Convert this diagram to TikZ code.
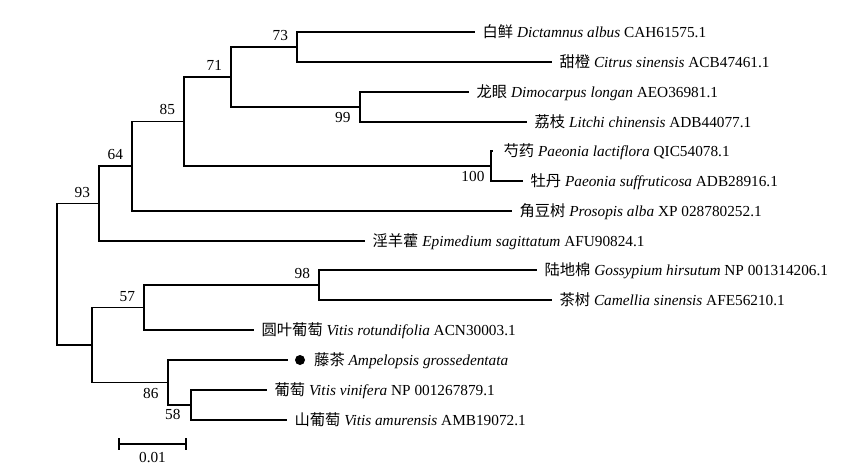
\documentclass[tikz,border=0pt]{standalone}
\usepackage{fontspec}
\setmainfont{Liberation Serif}
\newfontfamily\cjk{Noto Sans CJK SC}
\usetikzlibrary{calc}
\begin{document}
\begin{tikzpicture}[x=1pt,y=-1pt,line width=1.2pt,
  every node/.style={font=\fontsize{15.3pt}{18pt}\selectfont},
  leaf/.style={anchor=base west,inner sep=0pt,xshift=7pt,yshift=-5.5pt},
  bsup/.style={anchor=base east,inner sep=0pt,xshift=-8.5pt,yshift=6.5pt},
  bsdown/.style={anchor=base east,inner sep=0pt,xshift=-9pt,yshift=-16pt}]
\useasboundingbox (0,0) rectangle (866,473);

\coordinate (d1) at (475,32);
\coordinate (d2) at (552,62);
\coordinate (d3) at (469,92);
\coordinate (d4) at (527,122);
\coordinate (d5) at (493,151);
\coordinate (d6) at (523,181);
\coordinate (d7) at (512,211);
\coordinate (d8) at (365,241);
\coordinate (d9) at (537,270);
\coordinate (d10) at (552,300);
\coordinate (d11) at (254,330);
\coordinate (d12) at (288,360);
\coordinate (d13) at (267,390);
\coordinate (d14) at (287,420);

\coordinate (n73) at (297,47);
\coordinate (n99) at (360,107);
\coordinate (n71) at (231,77);
\coordinate (n100) at (491,166);
\coordinate (n85) at (184,121.5);
\coordinate (n64) at (132,166);
\coordinate (n93) at (99,203.5);
\coordinate (n98) at (319,285);
\coordinate (n57) at (144,307.5);
\coordinate (n58) at (191,405);
\coordinate (n86) at (168,382.5);
\coordinate (nlow) at (92,345);
\coordinate (root) at (57,274);

\draw (n73) |- (d1);
\draw (n73) |- (d2);
\draw (n99) |- (d3);
\draw (n99) |- (d4);
\draw (n100) |- (d5);
\draw (n100) |- (d6);
\draw (n71) |- (n73);
\draw (n71) |- (n99);
\draw (n85) |- (n71);
\draw (n85) |- (n100);
\draw (n64) |- (n85);
\draw (n64) |- (d7);
\draw (n93) |- (n64);
\draw (n93) |- (d8);
\draw (n98) |- (d9);
\draw (n98) |- (d10);
\draw (n57) |- (n98);
\draw (n57) |- (d11);
\draw (n58) |- (d13);
\draw (n58) |- (d14);
\draw (n86) |- (d12);
\draw (n86) |- (n58);
\draw (nlow) |- (n57);
\draw (nlow) |- (n86);
\draw (root) |- (n93);
\draw (root) |- (nlow);

\node[bsup] (b73) at (n73) {73};
\node[bsup] (b71) at (n71) {71};
\node[bsup] (b85) at (n85) {85};
\node[bsup] (b64) at (n64) {64};
\node[bsup] (b93) at (n93) {93};
\node[bsup] (b98) at (n98) {98};
\node[bsup] (b57) at (n57) {57};
\node[bsdown] (b99) at (n99) {99};
\node[bsdown,xshift=3pt] (b100) at (n100) {100};
\node[bsdown] (b86) at (n86) {86};
\node[bsdown,xshift=-1pt,yshift=2pt] (b58) at (n58) {58};

\node[leaf] (l1) at (d1) {{\cjk 白鲜} \textit{Dictamnus albus} CAH61575.1};
\node[leaf] (l2) at (d2) {{\cjk 甜橙} \textit{Citrus sinensis} ACB47461.1};
\node[leaf] (l3) at (d3) {{\cjk 龙眼} \textit{Dimocarpus longan} AEO36981.1};
\node[leaf] (l4) at (d4) {{\cjk 荔枝} \textit{Litchi chinensis} ADB44077.1};
\node[leaf,xshift=3pt] (l5) at (d5) {{\cjk 芍药} \textit{Paeonia lactiflora} QIC54078.1};
\node[leaf] (l6) at (d6) {{\cjk 牡丹} \textit{Paeonia suffruticosa} ADB28916.1};
\node[leaf] (l7) at (d7) {{\cjk 角豆树} \textit{Prosopis alba} XP 028780252.1};
\node[leaf] (l8) at (d8) {{\cjk 淫羊藿} \textit{Epimedium sagittatum} AFU90824.1};
\node[leaf] (l9) at (d9) {{\cjk 陆地棉} \textit{Gossypium hirsutum} NP 001314206.1};
\node[leaf] (l10) at (d10) {{\cjk 茶树} \textit{Camellia sinensis} AFE56210.1};
\node[leaf] (l11) at (d11) {{\cjk 圆叶葡萄} \textit{Vitis rotundifolia} ACN30003.1};
\node[circle,fill,inner sep=0pt,minimum size=10pt,xshift=12pt] (dot) at (d12) {};
\node[leaf,xshift=1pt] (l12) at (dot.east) {{\cjk 藤茶} \textit{Ampelopsis grossedentata}};
\node[leaf] (l13) at (d13) {{\cjk 葡萄} \textit{Vitis vinifera} NP 001267879.1};
\node[leaf] (l14) at (d14) {{\cjk 山葡萄} \textit{Vitis amurensis} AMB19072.1};

\coordinate (s1) at (119,444);
\coordinate (s2) at (186,444);
\draw (s1) -- (s2);
\draw ([yshift=6pt]s1) -- ([yshift=-6pt]s1);
\draw ([yshift=6pt]s2) -- ([yshift=-6pt]s2);
\node[anchor=base,yshift=-18.7pt] (sl) at ($(s1)!0.5!(s2)$) {0.01};
\end{tikzpicture}
\end{document}
